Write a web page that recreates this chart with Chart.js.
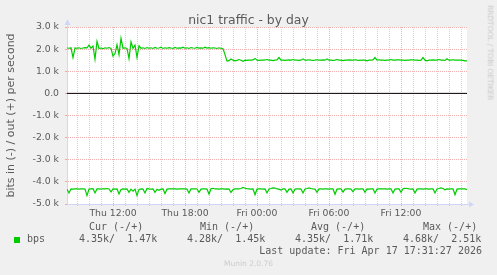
<!DOCTYPE html>
<html>
<head>
<meta charset="utf-8">
<script src="https://cdn.jsdelivr.net/npm/chart.js@4/dist/chart.umd.min.js"></script>
<style>
body { margin: 0; background: #f0f0f0; }
#wrap { position: relative; width: 497px; height: 275px; overflow: hidden; font-family: "DejaVu Sans"; color: #5a5a5a; }
canvas { position: absolute; left: 0; top: 0; }
.t { position: absolute; white-space: pre; line-height: 1; font-weight: normal; }
.mono { font-family: "DejaVu Sans Mono"; font-size: 10px; }
</style>
</head>
<body>
<div id="wrap">
<canvas id="c" width="497" height="275"></canvas>
<div class="t" id="title" style="left:0;width:497px;text-align:center;top:14px;font-size:12.4px;">nic1 traffic - by day</div>
<div class="t" style="left:440px;top:49px;width:100px;text-align:center;font-size:7.4px;color:#c8c8c8;transform:rotate(90deg);">RRDTOOL / TOBI OETIKER</div>
<div class="t mono" style="left:89px;top:222px;">Cur (-/+)</div>
<div class="t mono" style="left:200px;top:222px;">Min (-/+)</div>
<div class="t mono" style="left:311px;top:222px;">Avg (-/+)</div>
<div class="t mono" style="left:423px;top:222px;">Max (-/+)</div>
<div style="position:absolute;left:14px;top:237px;width:6px;height:6px;background:#00cc00;"></div>
<div class="t mono" style="left:27px;top:234px;">bps</div>
<div class="t mono" style="left:79px;top:234px;">4.35k/  1.47k</div>
<div class="t mono" style="left:187px;top:234px;">4.28k/  1.45k</div>
<div class="t mono" style="left:295px;top:234px;">4.35k/  1.71k</div>
<div class="t mono" style="left:403px;top:234px;">4.68k/  2.51k</div>
<div class="t mono" style="right:15px;top:246px;">Last update: Fri Apr 17 17:31:27 2026</div>
<div class="t" style="left:0;width:497px;text-align:center;top:260px;font-size:7.5px;color:#cccccc;">Munin 2.0.76</div>
</div>
<script>
// samples every 10 minutes, from Thu 08:10 to Fri 17:30 (hours since Thu 00:00)
const startHour = 8 + 10 / 60;
const stepHour = 1 / 6;
const endHour = 41.5;

// out (+), k bits per second
const outK = [
  2.05, 2.04, 2.06, 1.62, 2.05, 2.04, 2.06, 2.03, 2.05, 2.07,
  2.06, 2.18, 2.04, 2.14, 1.55, 2.35, 2.03, 2.05, 2.02, 2.06,
  2.04, 2.07, 2.03, 1.68, 1.80, 2.20, 1.75, 2.49, 2.04, 2.06,
  2.03, 1.57, 2.33, 2.04, 2.18, 1.63, 2.15, 2.04, 2.06, 2.03,
  2.07, 2.04, 2.06, 2.03, 2.08, 2.04, 2.05, 2.09, 2.03, 2.06,
  2.04, 2.07, 2.05, 2.03, 2.08, 2.04, 2.06, 2.05, 2.09, 2.04,
  2.06, 2.03, 2.07, 2.05, 2.04, 2.08, 2.05, 2.06, 2.04, 2.09,
  2.05, 2.07, 2.04, 2.06, 2.05, 2.03, 2.06, 2.04, 2.02, 1.75,
  1.46, 1.48, 1.55, 1.50, 1.47, 1.49, 1.53, 1.50, 1.45, 1.50,
  1.49, 1.50, 1.50, 1.51, 1.58, 1.50, 1.49, 1.50, 1.50, 1.51,
  1.53, 1.50, 1.50, 1.48, 1.50, 1.51, 1.62, 1.50, 1.50, 1.49,
  1.50, 1.51, 1.50, 1.53, 1.50, 1.50, 1.49, 1.50, 1.56, 1.50,
  1.50, 1.52, 1.50, 1.49, 1.50, 1.52, 1.50, 1.50, 1.51, 1.50,
  1.56, 1.50, 1.50, 1.49, 1.50, 1.53, 1.50, 1.50, 1.48, 1.50,
  1.50, 1.51, 1.50, 1.50, 1.52, 1.50, 1.49, 1.50, 1.50, 1.50,
  1.47, 1.50, 1.50, 1.51, 1.62, 1.50, 1.52, 1.50, 1.50, 1.49,
  1.50, 1.50, 1.53, 1.50, 1.50, 1.51, 1.52, 1.50, 1.50, 1.49,
  1.50, 1.50, 1.51, 1.52, 1.50, 1.50, 1.49, 1.50, 1.62, 1.50,
  1.47, 1.50, 1.50, 1.51, 1.50, 1.50, 1.53, 1.50, 1.50, 1.49,
  1.56, 1.50, 1.50, 1.52, 1.50, 1.50, 1.50, 1.50, 1.49, 1.47,
  1.47
];

// in (-), k bits per second (drawn below zero)
const inK = [
  4.33, 4.50, 4.32, 4.33, 4.32, 4.31, 4.33, 4.32, 4.32, 4.33,
  4.62, 4.33, 4.32, 4.31, 4.50, 4.32, 4.32, 4.33, 4.31, 4.32,
  4.30, 4.32, 4.45, 4.32, 4.33, 4.32, 4.55, 4.34, 4.32, 4.33,
  4.32, 4.47, 4.33, 4.42, 4.33, 4.62, 4.34, 4.32, 4.33, 4.50,
  4.30, 4.32, 4.33, 4.32, 4.47, 4.33, 4.38, 4.33, 4.32, 4.53,
  4.33, 4.32, 4.31, 4.32, 4.32, 4.33, 4.32, 4.31, 4.32, 4.32,
  4.33, 4.50, 4.32, 4.32, 4.31, 4.32, 4.47, 4.33, 4.32, 4.32,
  4.33, 4.55, 4.31, 4.29, 4.32, 4.32, 4.33, 4.32, 4.32, 4.33,
  4.32, 4.33, 4.48, 4.35, 4.32, 4.31, 4.32, 4.30, 4.25, 4.29,
  4.31, 4.32, 4.33, 4.32, 4.58, 4.33, 4.32, 4.32, 4.33, 4.32,
  4.50, 4.32, 4.30, 4.27, 4.28, 4.32, 4.33, 4.37, 4.32, 4.32,
  4.47, 4.33, 4.32, 4.50, 4.33, 4.32, 4.32, 4.33, 4.50, 4.32,
  4.30, 4.27, 4.30, 4.32, 4.33, 4.47, 4.32, 4.32, 4.33, 4.32,
  4.32, 4.33, 4.32, 4.32, 4.56, 4.33, 4.32, 4.32, 4.46, 4.33,
  4.32, 4.32, 4.33, 4.45, 4.32, 4.32, 4.33, 4.32, 4.32, 4.47,
  4.32, 4.33, 4.32, 4.32, 4.50, 4.33, 4.32, 4.32, 4.31, 4.32,
  4.33, 4.32, 4.32, 4.50, 4.33, 4.32, 4.32, 4.47, 4.31, 4.29,
  4.30, 4.32, 4.33, 4.32, 4.50, 4.33, 4.32, 4.32, 4.33, 4.32,
  4.32, 4.33, 4.32, 4.32, 4.50, 4.32, 4.30, 4.27, 4.30, 4.36,
  4.32, 4.33, 4.32, 4.32, 4.58, 4.33, 4.32, 4.32, 4.31, 4.32,
  4.35
];

const xTickHours = [12, 18, 24, 30, 36];
const xTickLabels = ['Thu 12:00', 'Thu 18:00', 'Fri 00:00', 'Fri 06:00', 'Fri 12:00'];
const yTitle = 'bits in (-) / out (+) per second';

const majorGrid = 'rgba(222,79,79,0.45)';
const minorGrid = 'rgba(143,143,143,0.4)';
const axisCol = '#cfd6f8';

const outPts = outK.map((v, i) => ({ x: startHour + i * stepHour, y: v * 1000 }));
const inPts = inK.map((v, i) => ({ x: startHour + i * stepHour, y: -v * 1000 }));

const bgPlugin = {
  id: 'bg',
  beforeDraw(chart) {
    const a = chart.chartArea, ctx = chart.ctx;
    ctx.save();
    ctx.fillStyle = '#ffffff';
    ctx.fillRect(a.left, a.top, a.right - a.left, a.bottom - a.top);
    ctx.restore();
  },
  afterDraw(chart) {
    // rrdtool style axis arrows
    const a = chart.chartArea, ctx = chart.ctx;
    ctx.save();
    ctx.strokeStyle = axisCol;
    ctx.fillStyle = axisCol;
    ctx.lineWidth = 1;
    ctx.beginPath();
    ctx.moveTo(a.left + 0.5, a.top);
    ctx.lineTo(a.left + 0.5, a.top - 4);
    ctx.moveTo(a.right, a.bottom + 0.5);
    ctx.lineTo(a.right + 3, a.bottom + 0.5);
    ctx.stroke();
    ctx.beginPath();
    ctx.moveTo(a.left + 0.5, a.top - 8);
    ctx.lineTo(a.left - 2.5, a.top - 2);
    ctx.lineTo(a.left + 3.5, a.top - 2);
    ctx.closePath();
    ctx.fill();
    ctx.beginPath();
    ctx.moveTo(a.right + 7, a.bottom + 0.5);
    ctx.lineTo(a.right + 2, a.bottom - 2.5);
    ctx.lineTo(a.right + 2, a.bottom + 3.5);
    ctx.closePath();
    ctx.fill();
    ctx.restore();
  }
};

const gridCol = (ctx, step) => (ctx.tick && ctx.tick.value % step === 0 ? majorGrid : minorGrid);

new Chart(document.getElementById('c'), {
  type: 'line',
  data: {
    datasets: [
      {
        data: [{ x: startHour, y: 0 }, { x: endHour, y: 0 }],
        borderColor: '#000000',
        borderWidth: 1
      },
      {
        label: 'bps out',
        data: outPts,
        borderColor: '#00cc00',
        borderWidth: 1.2
      },
      {
        label: 'bps in',
        data: inPts,
        borderColor: '#00cc00',
        borderWidth: 1.2
      }
    ]
  },
  options: {
    responsive: false,
    animation: false,
    devicePixelRatio: 1,
    layout: { padding: { top: 27, right: 30, left: 0, bottom: 0 } },
    elements: { point: { radius: 0 }, line: { tension: 0 } },
    plugins: { legend: { display: false }, tooltip: { enabled: false } },
    scales: {
      x: {
        type: 'linear',
        min: startHour,
        max: endHour,
        afterBuildTicks: s => {
          s.ticks = [];
          for (let h = 9; h <= 41; h++) s.ticks.push({ value: h });
        },
        afterFit: s => { s.height = 71; },
        ticks: {
          autoSkip: false,
          maxRotation: 0,
          padding: 2,
          color: '#5a5a5a',
          font: { family: 'DejaVu Sans', size: 9.3 },
          callback: v => {
            const i = xTickHours.indexOf(v);
            return i < 0 ? '' : xTickLabels[i];
          }
        },
        grid: {
          color: c => gridCol(c, 6),
          tickColor: c => gridCol(c, 6),
          tickLength: 2,
          lineWidth: 1
        },
        border: { color: axisCol, width: 1, dash: [1, 1] }
      },
      y: {
        min: -5000,
        max: 3000,
        afterBuildTicks: s => {
          s.ticks = [];
          for (let v = -5000; v <= 3000; v += 500) s.ticks.push({ value: v });
        },
        afterFit: s => { s.width = 67; },
        title: {
          display: true,
          text: yTitle,
          color: '#5a5a5a',
          font: { family: 'DejaVu Sans', size: 11, lineHeight: 1 },
          padding: { top: 6, bottom: 0 }
        },
        ticks: {
          padding: 6,
          color: '#5a5a5a',
          font: { family: 'DejaVu Sans', size: 9.3 },
          callback: v => (v % 1000 ? '' : (v === 0 ? '0.0' : (v / 1000).toFixed(1) + ' k'))
        },
        grid: {
          color: c => gridCol(c, 1000),
          tickColor: c => gridCol(c, 1000),
          tickLength: 2,
          lineWidth: 1
        },
        border: { color: axisCol, width: 1, dash: [1, 1] }
      }
    }
  },
  plugins: [bgPlugin]
});
</script>
</body>
</html>
